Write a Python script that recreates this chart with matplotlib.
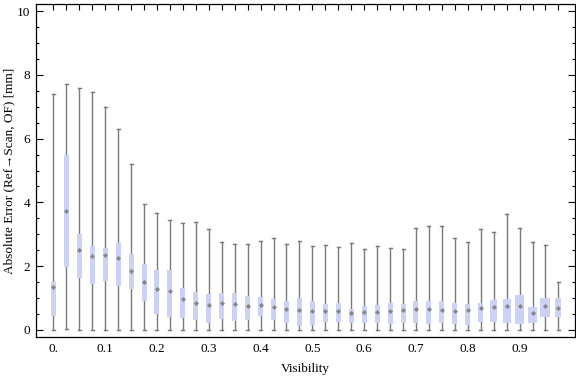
import matplotlib
matplotlib.use('Agg')
from matplotlib import pyplot as plt
import numpy as np

# visibility bins (0 .. 0.975, step 0.025)
visibility = [i * 0.025 for i in range(40)]

err_max = [7.39, 7.70, 7.58, 7.45, 6.98, 6.29, 5.19, 3.94, 3.67, 3.44,
           3.35, 3.39, 3.16, 2.75, 2.69, 2.69, 2.78, 2.87, 2.69, 2.78,
           2.62, 2.66, 2.59, 2.72, 2.53, 2.62, 2.56, 2.53, 3.19, 3.25,
           3.25, 2.87, 2.75, 3.16, 3.06, 3.63, 3.19, 2.75, 2.66, 1.50]
err_q3 = [1.50, 5.49, 3.01, 2.63, 2.57, 2.73, 2.38, 2.07, 1.88, 1.88,
          1.32, 1.18, 1.13, 1.16, 1.16, 1.07, 1.03, 0.97, 0.91, 1.00,
          0.91, 0.82, 0.85, 0.66, 0.75, 0.78, 0.85, 0.82, 0.91, 0.91,
          0.91, 0.85, 0.82, 0.85, 0.94, 0.97, 1.10, 0.72, 1.00, 1.00]
err_median = [1.36, 3.73, 2.51, 2.32, 2.35, 2.25, 1.86, 1.50, 1.28, 1.22,
              0.97, 0.84, 0.77, 0.86, 0.82, 0.76, 0.78, 0.73, 0.67, 0.62,
              0.60, 0.60, 0.60, 0.53, 0.55, 0.57, 0.61, 0.63, 0.65, 0.65,
              0.63, 0.60, 0.62, 0.69, 0.71, 0.74, 0.75, 0.52, 0.75, 0.69]
err_q1 = [0.45, 1.98, 1.64, 1.45, 1.55, 1.39, 1.29, 0.92, 0.51, 0.42,
          0.39, 0.32, 0.23, 0.36, 0.29, 0.32, 0.45, 0.32, 0.23, 0.13,
          0.17, 0.26, 0.26, 0.23, 0.23, 0.23, 0.20, 0.23, 0.23, 0.20,
          0.23, 0.20, 0.17, 0.26, 0.26, 0.23, 0.20, 0.23, 0.42, 0.42]
err_min = [0.0, 0.02] + [0.0] * 38

tick_vals = [0.0, 0.1, 0.2, 0.3, 0.4, 0.5, 0.6, 0.7, 0.8, 0.9]
tick_labels = ['0.', '0.1', '0.2', '0.3', '0.4', '0.5', '0.6', '0.7', '0.8', '0.9']

matplotlib.rcParams['font.family'] = ['Liberation Serif', 'DejaVu Serif']
matplotlib.rcParams['font.size'] = 9.5

box_color = '#cbd2f5'
line_color = '#7a7a7a'

# box widths (px-ish, in data units)
px = 0.025 / 12.95
widths = [5] * 40
for i, w in zip(range(34, 40), [7, 8, 9, 9, 10, 6]):
    widths[i] = w
widths = [w * px for w in widths]

stats = []
for i in range(len(visibility)):
    stats.append({'med': err_median[i], 'q1': err_q1[i], 'q3': err_q3[i],
                  'whislo': err_min[i], 'whishi': err_max[i], 'fliers': []})

fig = plt.figure(figsize=(5.76, 3.77), dpi=100)
ax = fig.add_axes([36 / 576, 40 / 377, 539 / 576, 333 / 377])

ax.bxp(stats, positions=visibility, widths=widths, patch_artist=True,
       showfliers=False, capwidths=3 * px, manage_ticks=False,
       boxprops=dict(facecolor=box_color, edgecolor='none', zorder=3),
       whiskerprops=dict(color=line_color, linewidth=1.0, zorder=2),
       capprops=dict(color=line_color, linewidth=1.0, zorder=2),
       medianprops=dict(linewidth=0))
ax.plot(visibility, err_median, linestyle='none', marker='D', markersize=2.6,
        color='#888888', markeredgewidth=0, zorder=4)

ax.set_xlim(-0.0335, 1.007)
ax.set_ylim(-0.22, 10.22)

ax.set_xticks(tick_vals)
ax.set_xticklabels(tick_labels)
ax.set_xticks(visibility, minor=True)
ax.tick_params(axis='x', which='both', bottom=False, top=True,
               direction='in', length=4, width=0.8, pad=4)
ax.set_yticks(np.arange(0, 11, 2))
ax.set_yticks(np.arange(0, 10.5, 0.5), minor=True)
ax.tick_params(axis='y', which='major', left=True, right=True,
               direction='in', length=5, width=0.8, pad=4)
ax.tick_params(axis='y', which='minor', left=True, right=True,
               direction='in', length=2.5, width=0.8)
for s in ax.spines.values():
    s.set_linewidth(0.9)

ax.set_xlabel('Visibility', labelpad=6)
ax.set_ylabel('Absolute Error (Ref\u2192Scan, OF) [mm]', labelpad=1)

plt.savefig('out.png', dpi=100)
plt.close()
